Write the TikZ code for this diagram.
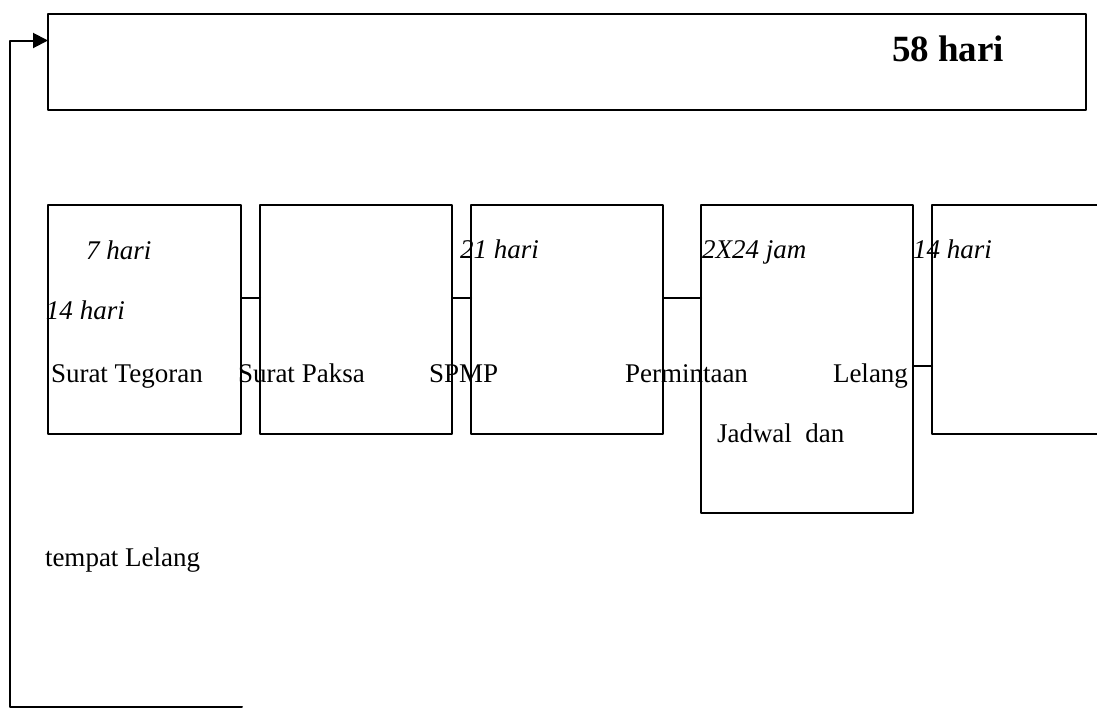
\documentclass[tikz,border=0pt]{standalone}
\usepackage{fontspec}
\setmainfont{Liberation Serif}
\usetikzlibrary{arrows.meta}
\begin{document}
\begin{tikzpicture}[x=0.5pt,y=-0.5pt,line width=1pt,line cap=round,line join=round,
    box/.style={draw,inner sep=0pt,outer sep=0pt,anchor=north west},
    lbl/.style={anchor=base west,inner sep=0pt,font=\fontsize{13.5}{16}\selectfont},
    ilbl/.style={lbl,font=\fontsize{13.5}{16}\selectfont\itshape}]
\useasboundingbox (0,0) rectangle (1097,713);
\node[box,minimum width=519pt,minimum height=48pt] (top) at (48,14) {};
\foreach \n/\x/\w/\h in {
    s1/48/96.5/114.5,
    s2/260/96/114.5,
    s3/471/96/114.5,
    s4/701/106/154,
    s5/932/90/114.5
}
{
    \node[box,minimum width=\w pt,minimum height=\h pt] (\n) at (\x,205) {};
}
\foreach \a/\b in {s1/s2,s2/s3,s3/s4}
{
    \draw ([yshift=10.75pt]\a.east) -- ([yshift=10.75pt]\a.east -| \b.west);
}
\draw ([yshift=-3.5pt]s4.east) -- ([yshift=-3.5pt]s4.east -| s5.west);
\coordinate (fb) at (242,707);
\coordinate (fbc) at (10,707);
\draw[-{Triangle[length=7.5pt,width=7.5pt]}] (fb) -- (fbc) |- ([yshift=10.75pt]top.west);

\node[anchor=base west,inner sep=0pt,font=\bfseries\fontsize{18.5}{22}\selectfont] (days) at (891,61) {58 hari};
\node[ilbl] (t7) at (85,259) {7 hari};
\node[ilbl] (t14a) at (45,319) {14 hari};
\node[ilbl] (t21) at (459,258) {21 hari};
\node[ilbl] (t2x24) at (701,258) {2X24 jam};
\node[ilbl] (t14b) at (912,258) {14 hari};
\node[lbl] (tegoran) at (50,382) {Surat Tegoran};
\node[lbl] (paksa) at (237,382) {Surat Paksa};
\node[lbl] (spmp) at (428,382) {SPMP};
\node[lbl] (permintaan) at (624,382) {Permintaan};
\node[lbl] (lelang) at (832,382) {Lelang};
\node[lbl] (jadwal) at (716,442) {Jadwal\ \ dan};
\node[lbl] (tempat) at (44,566) {tempat Lelang};
\end{tikzpicture}
\end{document}
